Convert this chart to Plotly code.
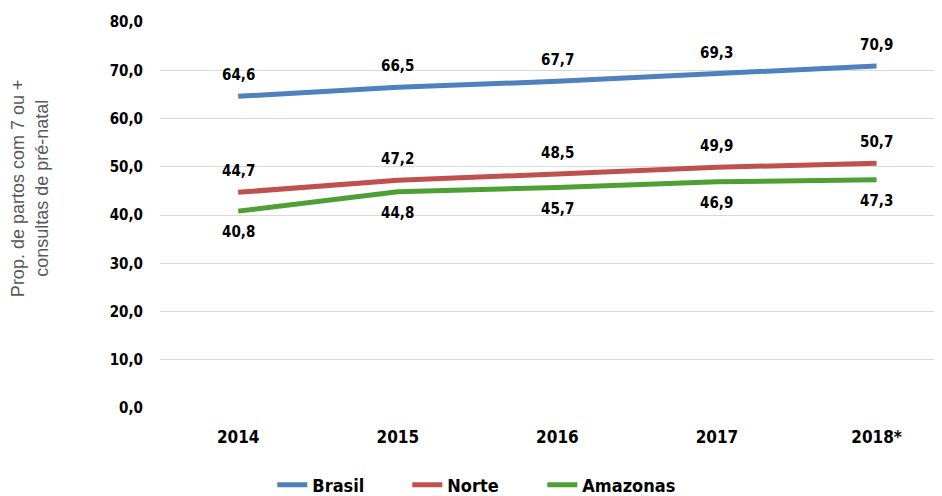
import plotly.graph_objects as go

# data
anos = ["2014", "2015", "2016", "2017", "2018*"]
brasil = [64.6, 66.5, 67.7, 69.3, 70.9]
norte = [44.7, 47.2, 48.5, 49.9, 50.7]
amazonas = [40.8, 44.8, 45.7, 46.9, 47.3]

series = [
    ("Brasil", brasil, "#4F81BD", 21),
    ("Norte", norte, "#C0504D", 21),
    ("Amazonas", amazonas, "#4E9F34", -21),
]

num_font = "DejaVu Sans Condensed"

fig = go.Figure()
annotations = []
for name, vals, color, shift in series:
    fig.add_trace(go.Scatter(
        x=anos, y=vals, name=name, mode="lines",
        line=dict(color=color, width=5),
        hoverinfo="none",
    ))
    # data labels above / below the line (x as category index)
    for i, v in enumerate(vals):
        annotations.append(dict(
            x=i, y=v, text=f"<b>{v:.1f}</b>".replace(".", ","),
            showarrow=False, yshift=shift,
            font=dict(family=num_font, size=15, color="black"),
        ))

# y axis title, placed by hand like in the original
annotations.append(dict(
    xref="paper", yref="paper", x=-0.136, xanchor="right", y=0.57,
    text="Prop. de partos com 7 ou +<br>consultas de pré-natal",
    textangle=-90, showarrow=False,
    font=dict(family="Liberation Sans", size=18, color="#595959"),
))

# page body has an 8px margin, so the figure is 8px smaller on each axis
fig.update_layout(
    width=934, height=488,
    margin=dict(l=152, r=0, t=14, b=88, autoexpand=False),
    plot_bgcolor="white", paper_bgcolor="white",
    separators=",.",
    annotations=annotations,
    xaxis=dict(
        range=[-0.49, 4.41], showgrid=False, zeroline=False, showline=False,
        ticks="", ticklabelstandoff=17,
        tickfont=dict(family=num_font, size=17, color="black", weight="bold"),
    ),
    yaxis=dict(
        range=[0, 80], dtick=10, tickformat=".1f",
        showgrid=True, gridcolor="#D9D9D9", gridwidth=1,
        zeroline=False, showline=False, ticks="",
        ticklabelstandoff=16,
        tickfont=dict(family=num_font, size=15, color="black", weight="bold"),
    ),
    legend=dict(
        orientation="h", xref="container", yref="container",
        x=0.283, xanchor="left", y=0.0225, yanchor="middle",
        entrywidth=90, entrywidthmode="pixels",
        font=dict(family=num_font, size=18, color="black", weight="bold"),
    ),
    showlegend=True,
)

fig.write_html("out.html")
